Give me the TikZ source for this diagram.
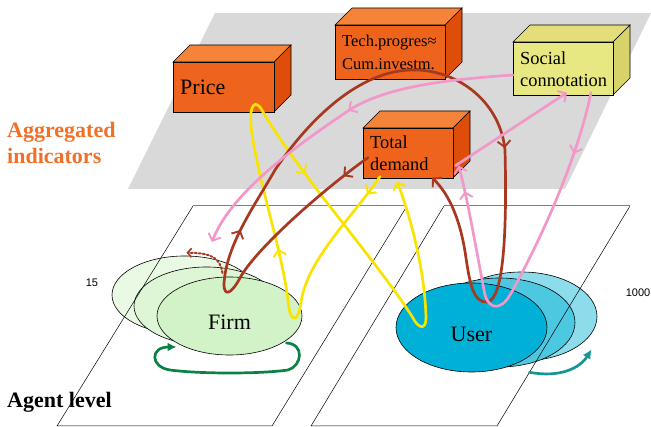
\documentclass[tikz,border=0pt]{standalone}
\usepackage{fontspec}
\setmainfont{Liberation Serif}
\newfontfamily\numfont{Liberation Sans}
\usetikzlibrary{arrows.meta,decorations.markings,shapes.geometric}
\definecolor{plane}{RGB}{217,217,217}
\definecolor{cubeor}{RGB}{239,100,28}
\definecolor{cubeortop}{RGB}{245,132,58}
\definecolor{cubeorside}{RGB}{222,78,10}
\definecolor{cubeye}{RGB}{232,232,130}
\definecolor{cubeyetop}{RGB}{228,222,122}
\definecolor{cubeyeside}{RGB}{216,210,106}
\definecolor{firmA}{RGB}{210,243,200}
\definecolor{firmB}{RGB}{222,246,214}
\definecolor{firmC}{RGB}{234,249,228}
\definecolor{userA}{RGB}{0,176,214}
\definecolor{userB}{RGB}{76,200,224}
\definecolor{userC}{RGB}{140,220,236}
\definecolor{brn}{RGB}{168,56,32}
\definecolor{yel}{RGB}{248,228,0}
\definecolor{pnk}{RGB}{242,152,200}
\definecolor{grn}{RGB}{10,130,70}
\definecolor{tel}{RGB}{20,150,150}
\definecolor{agg}{RGB}{240,112,40}
\tikzset{
  cubeedge/.style={draw=black, line width=0.6pt},
  cubeface/.style={cubeedge, anchor=north west, inner sep=0pt},
  cubelabel/.style={anchor=west, align=left, inner sep=0pt},
  agentnode/.style={ellipse, draw, line width=0.6pt, inner sep=0pt, text height=28pt, font=\fontsize{22}{26}\selectfont},
  flowline/.style={line width=2.7pt, line cap=round, line join=round},
  endbarb/.style={-{Straight Barb[length=6pt,width=13pt,line width=1.9pt]}},
  midbarb/.style={postaction={decorate}, decoration={markings, mark=at position #1 with {\arrow{Straight Barb[length=6pt,width=13pt,line width=1.9pt]}}}},
}
\newcommand{\drawcube}[8]{
  \filldraw[cubeedge, fill=#6top] (#2,#3)--++(17,-17)--++(#4,0)--++(-17,17)--cycle;
  \filldraw[cubeedge, fill=#6side] (#2+#4,#3)--++(17,-17)--++(0,#5)--++(-17,17)--cycle;
  \node[cubeface, fill=#6, minimum width=#4pt, minimum height=#5pt] (#1) at (#2,#3) {};
  \node[cubelabel, font=#7] (#1text) at ([xshift=7pt]#1.west) {#8};
}

\begin{document}
\begin{tikzpicture}[x=1pt,y=-1pt]
\useasboundingbox (0,0) rectangle (651,427);
\fill[plane] (215,13)--(651,13)--(565,189)--(128,189)--cycle;

\node[agentnode, fill=firmC, minimum width=145pt, minimum height=78pt] (firm3) at (184.5,295) {};
\node[agentnode, fill=firmB, minimum width=145pt, minimum height=78pt] (firm2) at (206.5,306) {};
\node[agentnode, fill=firmA, minimum width=145pt, minimum height=78pt] (firm) at (229.5,316) {Firm};
\node[agentnode, fill=userC, minimum width=151pt, minimum height=89pt] (user3) at (521.5,316.5) {};
\node[agentnode, fill=userB, minimum width=151pt, minimum height=89pt] (user2) at (499.5,322.5) {};
\node[agentnode, fill=userA, minimum width=151pt, minimum height=89pt] (user) at (471.5,327.5) {User};

\draw[line width=0.5pt] (407,206)--(272,426)--(57,426)--(193,206);
\draw[line width=1pt, black!50] (193,206)--(407,206);
\draw[line width=0.5pt] (630,206)--(497,426)--(311,426)--(444,206);
\draw[line width=1pt, black!50] (444,206)--(630,206);

\drawcube{price}{173}{62}{101}{50}{cubeor}{\fontsize{22}{26}\selectfont}{Price}
\drawcube{tech}{335}{25}{110}{54}{cubeor}{\fontsize{16.5}{23}\selectfont}{Tech.progres≈\\Cum.investm.}
\drawcube{td}{363}{128}{90}{50}{cubeor}{\fontsize{18.4}{22}\selectfont}{Total\\demand}
\drawcube{social}{513}{42}{100}{53}{cubeye}{\fontsize{18.4}{22}\selectfont}{Social\\connotation}

\node[cubelabel, text=agg, font=\bfseries\fontsize{22}{26}\selectfont] (agglabel) at (7,142.5) {Aggregated\\indicators};
\node[cubelabel, font=\bfseries\fontsize{22}{26}\selectfont] (agentlabel) at (7,402) {Agent level};
\node[font=\numfont\fontsize{11}{13}\selectfont] (firmcount) at (92,283) {15};
\node[font=\numfont\fontsize{11}{13}\selectfont] (usercount) at (638,293) {1000};

\coordinate (yfirm) at (294,318);
\coordinate (yprice) at (263,112);
\coordinate (yuser) at (426,318);
\coordinate (bfirm) at (224,284);
\coordinate (btech) at (410,70);
\coordinate (puser) at (485,295);
\coordinate (pfirm) at (212,242);

\draw[flowline, yel, midbarb=0.13] ([xshift=17pt,yshift=2pt]td.south west) .. controls (352,218) and (308,258) .. (301,302) .. controls (299,314) and (297,319) .. (yfirm);
\draw[flowline, yel, midbarb=0.31] (yfirm) .. controls (290,317) and (289,310) .. (288,300) .. controls (282,250) and (255,170) .. (251,125) .. controls (249,104) and (256,98) .. (yprice);
\draw[flowline, yel, midbarb=0.27] (yprice) .. controls (300,175) and (380,265) .. (413,318) .. controls (418,328) and (426,331) .. (yuser);
\draw[flowline, yel, endbarb] (yuser) .. controls (425,270) and (410,215) .. ([xshift=34pt,yshift=-3pt]td.south west);

\draw[flowline, brn, midbarb=0.15] ([xshift=5pt,yshift=21pt]td.south west) .. controls (320,192) and (255,250) .. (240,278) .. controls (232,293) and (224,298) .. (bfirm);
\draw[flowline, brn, midbarb=0.19] (bfirm) .. controls (226,245) and (255,205) .. (275,170) .. controls (305,125) and (355,72) .. (btech);
\draw[flowline, brn, endbarb, midbarb=0.31] (btech) .. controls (455,68) and (500,100) .. (505,150) .. controls (507,230) and (504,300) .. (487,302) .. controls (474,303) and (470,285) .. (466,258) .. controls (461,222) and (450,195) .. ([xshift=69pt,yshift=1pt]td.south west);
\draw[brn, line width=2pt, dotted, line cap=round, -{Straight Barb[length=4pt,width=9pt,line width=1.6pt]}] ([xshift=-7pt,yshift=43pt]firm.center) .. controls (220,258) and (212,253) .. ([xshift=2pt,yshift=3pt]firm3.north);

\draw[flowline, pnk, endbarb, midbarb=0.47] ([yshift=-33pt]social.north west) .. controls (440,80) and (380,88) .. (345,113) .. controls (290,150) and (230,195) .. (pfirm);
\draw[flowline, pnk, midbarb=0.25] ([xshift=78pt,yshift=3pt]social.south west) .. controls (575,170) and (530,260) .. (510,295) .. controls (503,308) and (490,312) .. (puser);
\draw[flowline, pnk, endbarb, midbarb=0.8] (puser) .. controls (478,260) and (468,200) .. ([xshift=5pt,yshift=13pt]td.south east);
\draw[flowline, pnk, endbarb] ([xshift=2pt,yshift=13pt]td.south east) -- ([xshift=54pt,yshift=3pt]social.south west);

\draw[flowline, grn, -{Latex[length=9pt,width=9pt]}] ([xshift=57pt,yshift=-27pt]firm.center) .. controls (305,344) and (302,366) .. (288,370) .. controls (260,374) and (200,374) .. (170,370) .. controls (150,367) and (150,347) .. ([xshift=-53pt,yshift=-31pt]firm.center);
\draw[flowline, tel, -{Latex[length=9pt,width=9pt]}] ([xshift=58pt]user.south) .. controls (560,378) and (580,368) .. ([xshift=70pt,yshift=-33pt]user3.center);
\end{tikzpicture}
\end{document}
